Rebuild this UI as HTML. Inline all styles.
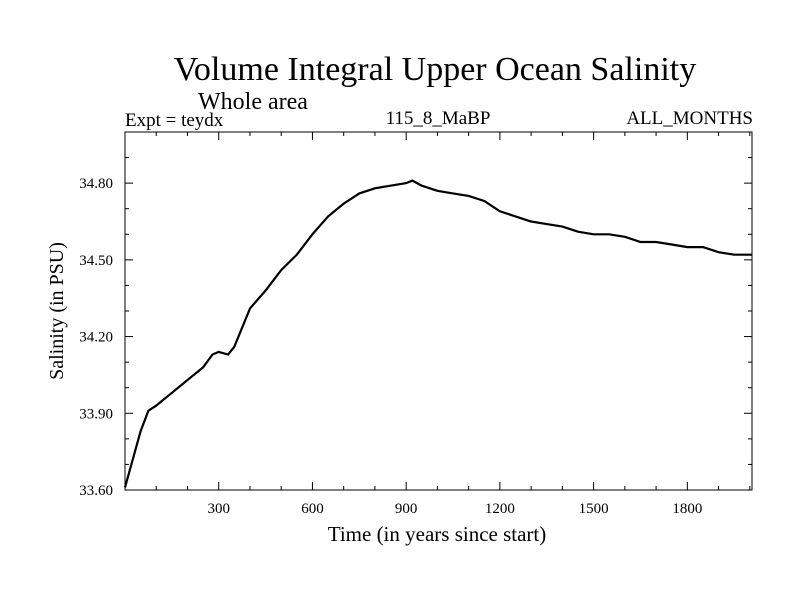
<!DOCTYPE html>
<html><head><meta charset="utf-8"><style>
html,body{margin:0;padding:0;background:#fff;}
svg{display:block;font-family:"Liberation Serif",serif;}
</style></head><body>
<svg id="chart" width="800" height="600">
<text x="435" y="80" font-size="34" text-anchor="middle">Volume Integral Upper Ocean Salinity</text>
<text x="253" y="109" font-size="24" text-anchor="middle">Whole area</text>
<text x="125" y="126" font-size="19">Expt = teydx</text>
<text x="438" y="124" font-size="19" text-anchor="middle">115_8_MaBP</text>
<text x="753" y="124" font-size="19" text-anchor="end">ALL_MONTHS</text>
<text x="437" y="541" font-size="21" text-anchor="middle">Time (in years since start)</text>
<text transform="translate(63,311) rotate(-90)" font-size="20" text-anchor="middle">Salinity (in PSU)</text>
<g id="axes"></g>
<path id="line" fill="none" stroke="#000" stroke-width="2.2"/>
</svg>
<script>
const years=[0,25,50,75,100,150,200,250,280,300,330,350,400,450,500,550,600,650,700,750,800,850,900,920,950,1000,1050,1100,1150,1200,1250,1300,1350,1400,1450,1500,1550,1600,1650,1700,1750,1800,1850,1900,1950,2000,2007];
const salinity=[33.61,33.72,33.83,33.91,33.93,33.98,34.03,34.08,34.13,34.14,34.13,34.16,34.31,34.38,34.46,34.52,34.60,34.67,34.72,34.76,34.78,34.79,34.80,34.81,34.79,34.77,34.76,34.75,34.73,34.69,34.67,34.65,34.64,34.63,34.61,34.60,34.60,34.59,34.57,34.57,34.56,34.55,34.55,34.53,34.52,34.52,34.52];
const xTicks=[300,600,900,1200,1500,1800];
const yTicks=[33.6,33.9,34.2,34.5,34.8];
const yTickLabels=["33.60","33.90","34.20","34.50","34.80"];
const L=125,R=752,T=132,B=490,X0=0,X1=2007,Y0=33.6,Y1=35.0;
const sx=v=>L+(v-X0)/(X1-X0)*(R-L);
const sy=v=>B-(v-Y0)/(Y1-Y0)*(B-T);
const NS="http://www.w3.org/2000/svg";
const g=document.getElementById('axes');
function mk(tag,attrs){const e=document.createElementNS(NS,tag);for(const k in attrs)e.setAttribute(k,attrs[k]);g.appendChild(e);return e;}
const frame=mk('rect',{x:L,y:T,width:R-L,height:B-T,fill:'none',stroke:'#000','stroke-width':1});


for(let v=100;v<X1;v+=100){const major=v%300===0;const len=major?8:4;const x=sx(v);
mk('line',{x1:x,y1:B,x2:x,y2:B-len,stroke:'#000'});mk('line',{x1:x,y1:T,x2:x,y2:T+len,stroke:'#000'});}
for(let i=1;i<14;i++){const v=Y0+i*0.1;const major=i%3===0;const len=major?8:4;const y=sy(v);
mk('line',{x1:L,y1:y,x2:L+len,y2:y,stroke:'#000'});mk('line',{x1:R,y1:y,x2:R-len,y2:y,stroke:'#000'});}
xTicks.forEach(v=>{const t=mk('text',{x:sx(v),y:513,'font-size':15,'text-anchor':'middle'});t.textContent=v;

});
yTicks.forEach((v,i)=>{const t=mk('text',{x:113,y:sy(v)+5,'font-size':15,'text-anchor':'end'});t.textContent=yTickLabels[i];

});
document.getElementById('line').setAttribute('d',years.map((y,i)=>(i?'L':'M')+sx(y).toFixed(1)+','+sy(salinity[i]).toFixed(1)).join(''));
</script>
</body></html>
